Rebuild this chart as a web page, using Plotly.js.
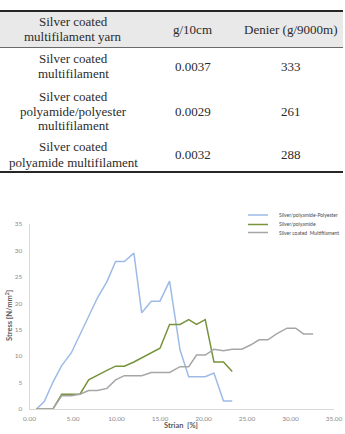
<!DOCTYPE html>
<html>
<head>
<meta charset="utf-8">
<script src="https://cdn.plot.ly/plotly-3.0.1.min.js"></script>
<style>
  html, body { margin: 0; padding: 0; background: #fff; }
  #chart { width: 345px; height: 434px; }
</style>
</head>
<body>
<div id="chart"></div>
<script>
// ---- Table: yarn properties ----
const tableHeader = ["Silver coated<br>multifilament yarn", "g/10cm", "Denier (g/9000m)"];
const yarnNames = [
  "Silver coated<br>multifilament",
  "Silver coated<br>polyamide/polyester<br>multifilament",
  "Silver coated<br>polyamide multifilament"
];
const gramsPer10cm = ["0.0037", "0.0029", "0.0032"];
const denier = ["333", "261", "288"];

// ---- Stress-strain curves ----
const seriesNames = ["Silver/polyamide-Polyester", "Silver/polyamide", "Silver coated  Multifilament"];
const strainPolyPoly = [0.8, 1.7, 2.7, 3.7, 4.8, 5.8, 6.8, 7.8, 8.9, 9.9, 10.9, 12.0, 12.9, 14.0, 15.0, 16.1, 17.3, 18.3, 19.2, 20.2, 21.2, 22.3, 23.3];
const stressPolyPoly = [0, 1.4, 5.1, 8.2, 10.6, 14.0, 17.5, 21.0, 24.1, 27.9, 27.9, 29.5, 18.2, 20.4, 20.4, 24.2, 11.2, 6.1, 6.1, 6.1, 6.8, 1.5, 1.5];
const strainPolyamide = [0.8, 1.7, 2.7, 3.7, 4.8, 5.8, 6.8, 7.8, 8.9, 9.9, 10.9, 12.0, 12.9, 14.0, 15.0, 16.1, 17.3, 18.3, 19.2, 20.2, 21.2, 22.3, 23.3];
const stressPolyamide = [0, 0, 0, 2.8, 2.8, 2.8, 5.5, 6.4, 7.3, 8.1, 8.1, 8.9, 9.7, 10.6, 11.5, 16.0, 16.0, 16.9, 16.0, 16.9, 8.9, 8.9, 7.1];
const strainMulti = [0.8, 1.7, 2.7, 3.7, 4.8, 5.8, 6.8, 7.8, 8.9, 9.9, 10.9, 12.0, 12.9, 14.0, 15.0, 16.1, 17.3, 18.3, 19.2, 20.2, 21.2, 22.3, 23.3, 24.4, 25.4, 26.4, 27.4, 28.4, 29.6, 30.6, 31.5, 32.6];
const stressMulti = [0, 0, 0, 2.5, 2.5, 2.8, 3.5, 3.5, 3.9, 5.5, 6.3, 6.3, 6.3, 6.9, 6.9, 6.9, 8.0, 8.0, 10.2, 10.2, 11.3, 11.0, 11.3, 11.3, 12.1, 13.1, 13.1, 14.2, 15.3, 15.3, 14.2, 14.2];
const xTicks = [0, 5, 10, 15, 20, 25, 30, 35];
const yTicks = [0, 5, 10, 15, 20, 25, 30, 35];
const xTitle = "Strian  [%]";
const yTitle = "Stress [N/mm<sup>2</sup>]";

const seriesColors = ["#9dbbe6", "#77933c", "#a6a6a6"];

// page is drawn with zero margins, so paper coords map straight to pixels
const W = 345, H = 434;
const px = v => v / W;
const py = v => 1 - v / H;

const shapes = [];
const annotations = [];

// table geometry
const tableLeft = 0, tableRight = 343;
const colCenters = [73, 193, 291];
const rowEdges = [11, 47.5, 85, 137, 172];
const lineGap = 15;
const serif = { family: "Liberation Serif", size: 13, color: "#2b2b2b" };

shapes.push({ type: "rect", xref: "paper", yref: "paper", layer: "below",
  x0: px(tableLeft), x1: px(tableRight), y0: py(rowEdges[0]), y1: py(rowEdges[1]),
  fillcolor: "#e9e9e9", line: { width: 0 } });
shapes.push({ type: "line", xref: "paper", yref: "paper",
  x0: px(tableLeft), x1: px(tableRight), y0: py(rowEdges[0]), y1: py(rowEdges[0]),
  line: { color: "#262626", width: 2 } });
shapes.push({ type: "line", xref: "paper", yref: "paper",
  x0: px(tableLeft), x1: px(tableRight), y0: py(rowEdges[1]), y1: py(rowEdges[1]),
  line: { color: "#6a6a6a", width: 1 } });
shapes.push({ type: "line", xref: "paper", yref: "paper",
  x0: px(tableLeft), x1: px(tableRight), y0: py(rowEdges[4]), y1: py(rowEdges[4]),
  line: { color: "#262626", width: 2 } });

function addCell(text, col, row) {
  const lines = text.split("<br>");
  const center = (rowEdges[row] + rowEdges[row + 1]) / 2;
  lines.forEach((ln, i) => {
    annotations.push({
      xref: "paper", yref: "paper", showarrow: false,
      x: px(colCenters[col]), y: py(center + (i - (lines.length - 1) / 2) * lineGap),
      xanchor: "center", yanchor: "middle", text: ln, font: serif
    });
  });
}
tableHeader.forEach((t, c) => addCell(t, c, 0));
yarnNames.forEach((name, r) => {
  addCell(name, 0, r + 1);
  addCell(gramsPer10cm[r], 1, r + 1);
  addCell(denier[r], 2, r + 1);
});

// hand-drawn legend in the top-right corner of the chart
const legendRows = [215, 224.5, 232.5];
seriesNames.forEach((name, i) => {
  shapes.push({ type: "line", xref: "paper", yref: "paper",
    x0: px(248), x1: px(268), y0: py(legendRows[i]), y1: py(legendRows[i]),
    line: { color: seriesColors[i], width: 1.5 } });
  annotations.push({ xref: "paper", yref: "paper", showarrow: false,
    x: px(276.5), y: py(legendRows[i]), xanchor: "left", yanchor: "middle",
    text: name, font: { family: "Lato", size: 5, color: "#4a4a4a" } });
});

// axis titles
const titleFont = { family: "Lato", size: 7.5, color: "#595959" };
annotations.push({ xref: "paper", yref: "paper", showarrow: false,
  x: px(181), y: py(425), xanchor: "center", yanchor: "middle",
  text: "<b>" + xTitle + "</b>", font: titleFont });
annotations.push({ xref: "paper", yref: "paper", showarrow: false,
  x: px(9), y: py(316), xanchor: "center", yanchor: "middle", textangle: -90,
  text: "<b>" + yTitle + "</b>", font: titleFont });

const curves = [
  [strainPolyPoly, stressPolyPoly],
  [strainPolyamide, stressPolyamide],
  [strainMulti, stressMulti]
];
const traces = curves.map((c, i) => ({
  type: "scatter", mode: "lines", name: seriesNames[i],
  x: c[0], y: c[1],
  line: { color: seriesColors[i], width: 1.5 },
  hoverinfo: "skip"
}));

const tickFont = { family: "Lato", size: 6.5, color: "#8c8c8c" };

const layout = {
  width: W, height: H,
  margin: { l: 0, r: 0, t: 0, b: 0 },
  paper_bgcolor: "#ffffff", plot_bgcolor: "#ffffff",
  showlegend: false,
  xaxis: {
    domain: [29.5 / W, 334 / W], range: [0, 35],
    tickvals: xTicks, ticktext: xTicks.map(v => v.toFixed(2)),
    showgrid: false, zeroline: false, showline: true, linecolor: "#d9d9d9", linewidth: 1,
    ticks: "outside", ticklen: 3, tickcolor: "rgba(0,0,0,0)", tickfont: tickFont
  },
  yaxis: {
    domain: [(H - 409) / H, (H - 224) / H], range: [0, 35],
    tickvals: yTicks, ticktext: yTicks.map(String),
    showgrid: false, zeroline: false, showline: true, linecolor: "#d9d9d9", linewidth: 1,
    ticks: "outside", ticklen: 5, tickcolor: "rgba(0,0,0,0)", tickfont: tickFont
  },
  shapes: shapes,
  annotations: annotations
};

Plotly.newPlot("chart", traces, layout, { displayModeBar: false, staticPlot: true });
</script>
</body>
</html>
